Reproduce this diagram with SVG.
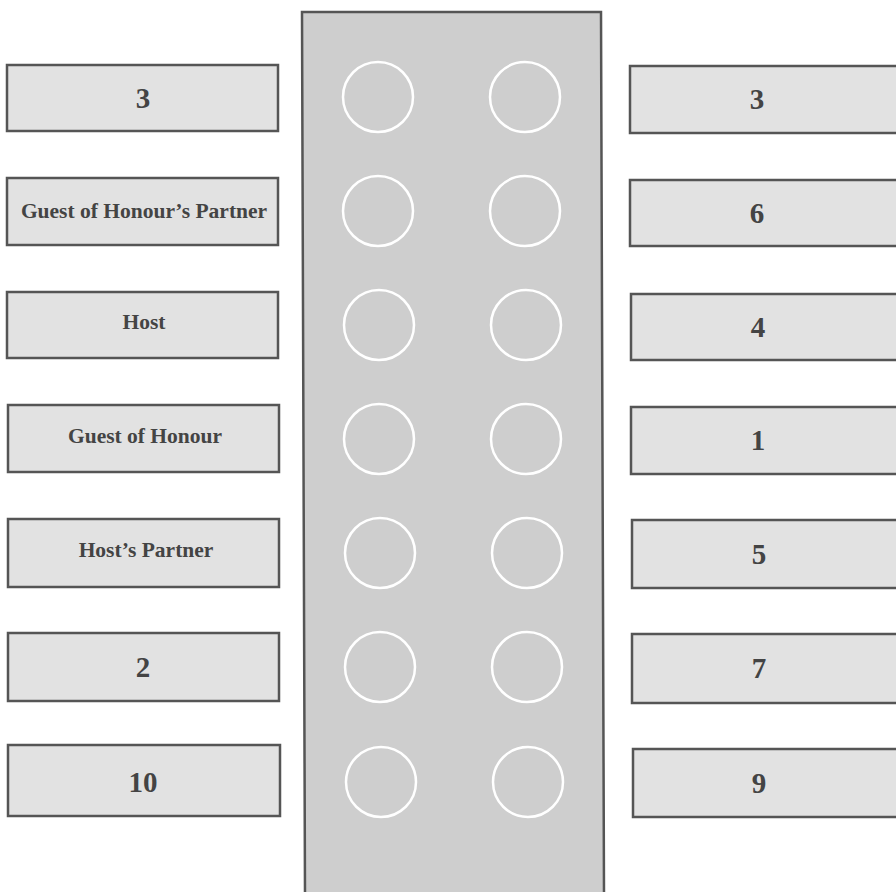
<svg xmlns="http://www.w3.org/2000/svg" width="896" height="892" viewBox="0 0 896 892">
<style>
.bg{fill:#ffffff}
.table{fill:#cecece;stroke:#555;stroke-width:2.5}
.seat{fill:none;stroke:#ffffff;stroke-width:2.5}
.box{fill:#e2e2e2;stroke:#555;stroke-width:2.5}
.lbl{font-family:"Liberation Serif","DejaVu Serif",serif;font-weight:bold;fill:#444;text-anchor:middle;dominant-baseline:central}
.num{font-size:29px}
.name{font-size:21.5px}
</style>
<rect class="bg" x="0" y="0" width="896" height="892"/>
<g id="table">
<polygon class="table" points="302,12 601,12 604,895 305,895"/>
<circle class="seat" cx="378" cy="97" r="35"/>
<circle class="seat" cx="525" cy="97" r="35"/>
<circle class="seat" cx="378" cy="211" r="35"/>
<circle class="seat" cx="525" cy="211" r="35"/>
<circle class="seat" cx="379" cy="325" r="35"/>
<circle class="seat" cx="526" cy="325" r="35"/>
<circle class="seat" cx="379" cy="439" r="35"/>
<circle class="seat" cx="526" cy="439" r="35"/>
<circle class="seat" cx="380" cy="553" r="35"/>
<circle class="seat" cx="527" cy="553" r="35"/>
<circle class="seat" cx="380" cy="667" r="35"/>
<circle class="seat" cx="527" cy="667" r="35"/>
<circle class="seat" cx="381" cy="782" r="35"/>
<circle class="seat" cx="528" cy="782" r="35"/>
</g>
<g id="connectors"></g>
<g id="left1"><rect class="box" x="7" y="65" width="271" height="66"/><text class="lbl num" x="143" y="98">3</text></g>
<g id="left2"><rect class="box" x="7" y="178" width="271" height="67"/><text class="lbl name" x="144" y="211">Guest of Honour’s Partner</text></g>
<g id="left3"><rect class="box" x="7" y="292" width="271" height="66"/><text class="lbl name" x="144" y="322">Host</text></g>
<g id="left4"><rect class="box" x="8" y="405" width="271" height="67"/><text class="lbl name" x="145" y="436">Guest of Honour</text></g>
<g id="left5"><rect class="box" x="8" y="519" width="271" height="68"/><text class="lbl name" x="146" y="550">Host’s Partner</text></g>
<g id="left6"><rect class="box" x="8" y="633" width="271" height="68"/><text class="lbl num" x="143" y="667">2</text></g>
<g id="left7"><rect class="box" x="8" y="745" width="272" height="71"/><text class="lbl num" x="143" y="782">10</text></g>
<g id="right1"><rect class="box" x="630" y="66" width="270" height="67"/><text class="lbl num" x="757" y="99">3</text></g>
<g id="right2"><rect class="box" x="630" y="180" width="270" height="66"/><text class="lbl num" x="757" y="213">6</text></g>
<g id="right3"><rect class="box" x="631" y="294" width="270" height="66"/><text class="lbl num" x="758" y="327">4</text></g>
<g id="right4"><rect class="box" x="631" y="407" width="270" height="67"/><text class="lbl num" x="758" y="440">1</text></g>
<g id="right5"><rect class="box" x="632" y="520" width="270" height="68"/><text class="lbl num" x="759" y="554">5</text></g>
<g id="right6"><rect class="box" x="632" y="634" width="270" height="69"/><text class="lbl num" x="759" y="668">7</text></g>
<g id="right7"><rect class="box" x="633" y="749" width="270" height="68"/><text class="lbl num" x="759" y="783">9</text></g>
</svg>
